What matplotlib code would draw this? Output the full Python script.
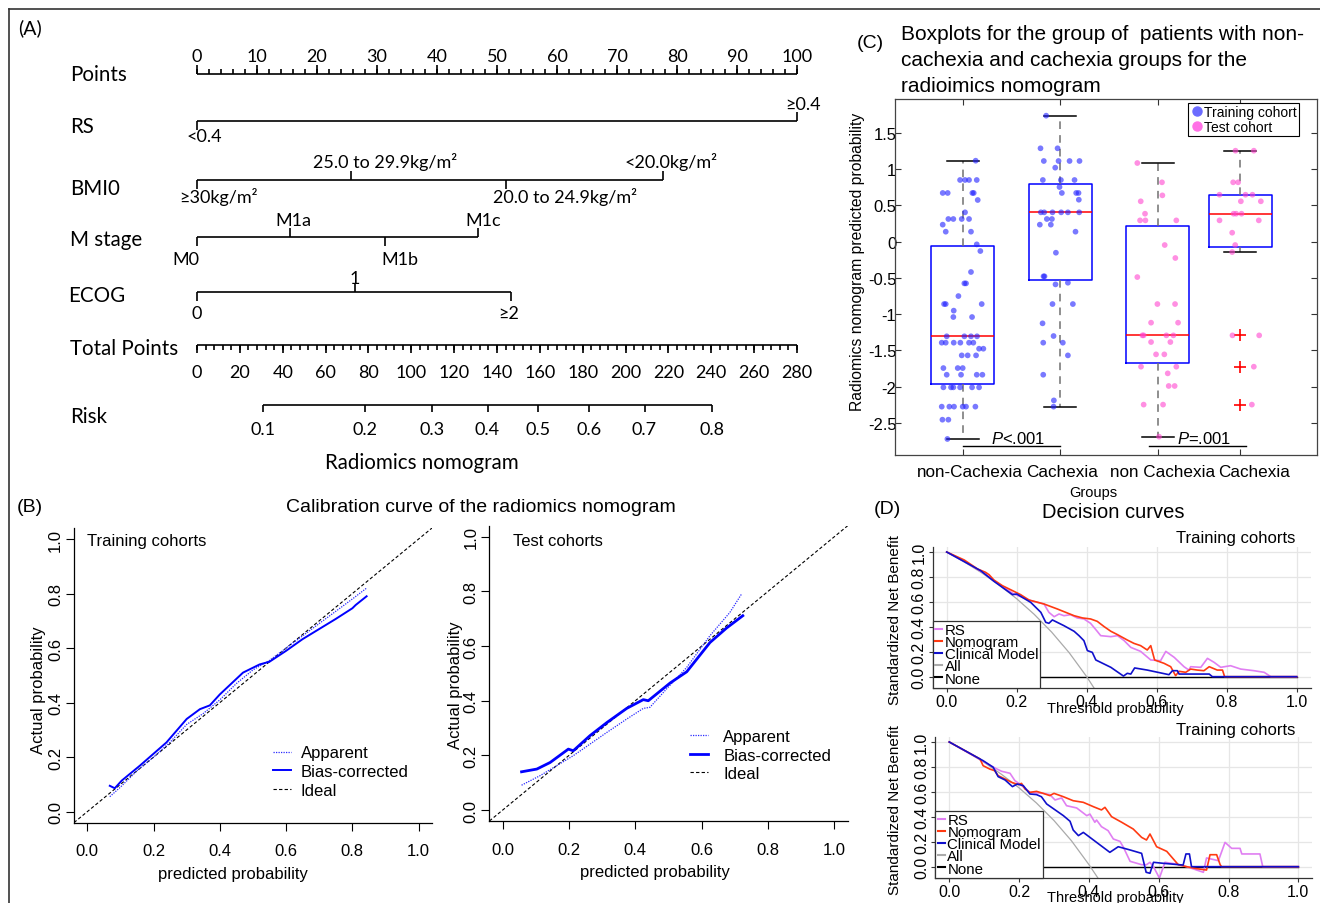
import numpy as np
import matplotlib
matplotlib.use("Agg")
import matplotlib.pyplot as plt
from matplotlib.lines import Line2D

# ============================ DATA ============================
# ---- Panel A: nomogram ----
points_ticks = [0, 10, 20, 30, 40, 50, 60, 70, 80, 90, 100]
rs_labels = ["<0.4", "≥0.4"]
rs_points = [0, 100]
bmi_labels = ["≥30kg/m²", "25.0 to 29.9kg/m²", "20.0 to 24.9kg/m²", "<20.0kg/m²"]
bmi_points = [0, 25.6, 51.5, 77.6]
mstage_labels = ["M0", "M1a", "M1b", "M1c"]
mstage_points = [0, 15.5, 31.3, 46.9]
ecog_labels = ["0", "1", "≥2"]
ecog_points = [0, 26.3, 52.4]
total_ticks = [0, 20, 40, 60, 80, 100, 120, 140, 160, 180, 200, 220, 240, 260, 280]
total_max = 280
risk_ticks = [0.1, 0.2, 0.3, 0.4, 0.5, 0.6, 0.7, 0.8]
risk_tp_at_half = 159.3      # total points where risk = 0.5
risk_tp_per_logit = 58.47    # total points per logit unit

# ---- Panel C: boxplots ----
group_labels = ["non-Cachexia", "Cachexia", "non Cachexia", "Cachexia"]
box_med = [-1.305, 0.405, -1.292, 0.386]
box_q1 = [-1.967, -0.529, -1.677, -0.068]
box_q3 = [-0.055, 0.800, 0.212, 0.648]
box_whislo = [-2.721, -2.275, -2.689, -0.143]
box_whishi = [1.117, 1.738, 1.085, 1.255]
box_fliers = [[], [], [], [-1.292, -1.724, -2.247]]

# (jitter, value) pairs
train_noncach = [(0.133, 1.117), (-0.027, 0.851), (0.024, 0.851), (0.065, 0.851), (0.144, 0.851),
                 (-0.205, 0.672), (-0.154, 0.672), (0.099, 0.672), (0.113, 0.672), (0.154, 0.575),
                 (0.024, 0.405), (-0.147, 0.313), (-0.096, 0.313), (-0.010, 0.313), (0.065, 0.313),
                 (-0.205, 0.235), (-0.174, 0.138), (0.085, 0.138), (0.144, -0.037), (0.181, -0.129),
                 (0.085, -0.418), (0.017, -0.575), (0.034, -0.575), (-0.044, -0.75), (-0.191, -0.86),
                 (-0.174, -0.86), (0.195, -0.86), (-0.092, -0.951), (-0.096, -1.039), (0.096, -1.039),
                 (-0.164, -1.305), (0.017, -1.305), (0.085, -1.305), (0.147, -1.305),
                 (-0.215, -1.393), (-0.174, -1.393), (-0.092, -1.393), (-0.024, -1.393), (0.065, -1.393),
                 (0.109, -1.393), (0.168, -1.476), (0.212, -1.476), (-0.010, -1.568), (0.051, -1.568),
                 (0.137, -1.568), (-0.198, -1.743), (-0.051, -1.743), (0.0, -1.743),
                 (-0.164, -1.835), (-0.017, -1.835), (0.144, -1.835), (0.202, -1.835),
                 (-0.198, -2.009), (-0.120, -2.009), (-0.096, -2.009), (-0.027, -2.009), (0.096, -2.009),
                 (0.168, -2.009), (-0.215, -2.275), (-0.137, -2.275), (-0.089, -2.275), (0.0, -2.275),
                 (0.034, -2.275), (0.130, -2.275), (-0.208, -2.455), (-0.147, -2.455), (-0.157, -2.721)]
train_cach = [(-0.144, 1.738), (-0.202, 1.288), (-0.027, 1.288), (-0.168, 1.113), (-0.017, 1.113),
              (0.096, 1.113), (0.198, 1.113), (-0.051, 1.021), (-0.178, 0.851), (0.007, 0.851),
              (0.147, 0.851), (-0.007, 0.754), (0.017, 0.672), (0.164, 0.672), (0.188, 0.672),
              (0.191, 0.579), (-0.198, 0.405), (-0.164, 0.405), (-0.079, 0.405), (0.010, 0.405),
              (0.079, 0.405), (0.195, 0.405), (-0.137, 0.313), (-0.085, 0.313), (-0.209, 0.235),
              (-0.096, 0.235), (0.157, 0.138), (-0.044, -0.152), (-0.171, -0.478), (-0.161, -0.478),
              (-0.048, -0.589), (0.079, -0.566), (-0.079, -0.86), (0.130, -0.86), (-0.181, -1.126),
              (-0.068, -1.301), (-0.174, -1.393), (0.027, -1.393), (0.079, -1.568), (-0.174, -1.835),
              (-0.065, -2.189), (-0.068, -2.275)]
test_noncach = [(-0.209, 1.085), (0.044, 0.819), (0.048, 0.639), (-0.174, 0.557), (-0.130, 0.386),
                (-0.181, 0.294), (-0.126, 0.294), (0.191, 0.294), (0.072, -0.046), (0.181, -0.225),
                (-0.209, -0.488), (-0.003, -0.86), (0.178, -0.86), (-0.068, -1.117), (0.209, -1.117),
                (-0.157, -1.292), (-0.144, -1.292), (0.089, -1.292), (0.161, -1.292), (-0.068, -1.384),
                (0.130, -1.384), (-0.017, -1.554), (0.068, -1.554), (-0.171, -1.724), (0.191, -1.724),
                (0.103, -1.816), (0.113, -1.99), (0.174, -1.99), (-0.144, -2.247), (0.055, -2.247),
                (0.014, -2.689)]
test_cach = [(-0.048, 1.255), (0.140, 1.255), (-0.072, 0.819), (-0.021, 0.819), (-0.212, 0.648),
             (0.055, 0.648), (0.126, 0.648), (0.007, 0.557), (0.212, 0.557), (-0.068, 0.386),
             (-0.041, 0.386), (0.014, 0.386), (-0.212, 0.294), (0.191, 0.294), (-0.082, 0.124),
             (-0.051, -0.046), (-0.082, -0.143), (-0.079, -1.292), (0.195, -1.292), (0.140, -1.724),
             (0.120, -2.247)]
pval_texts = ["<.001", "=.001"]
pval_y = -2.823

# ---- Panel B: calibration ----
train_app = [(0.068, 0.055), (0.1, 0.09), (0.15, 0.15), (0.2, 0.2), (0.25, 0.255), (0.3, 0.32),
             (0.35, 0.36), (0.4, 0.41), (0.45, 0.47), (0.5, 0.52), (0.55, 0.555), (0.6, 0.6),
             (0.65, 0.645), (0.7, 0.69), (0.75, 0.735), (0.8, 0.78), (0.843, 0.82)]
train_bc = [(0.068, 0.095), (0.083, 0.086), (0.104, 0.114), (0.159, 0.169), (0.239, 0.254),
            (0.30, 0.34), (0.34, 0.376), (0.37, 0.39), (0.40, 0.43), (0.47, 0.51), (0.52, 0.54),
            (0.55, 0.55), (0.60, 0.59), (0.65, 0.633), (0.70, 0.67), (0.75, 0.707), (0.80, 0.746),
            (0.81, 0.758), (0.843, 0.79)]
test_app = [(0.057, 0.091), (0.113, 0.126), (0.213, 0.199), (0.314, 0.284), (0.374, 0.333),
            (0.424, 0.372), (0.444, 0.376), (0.494, 0.443), (0.555, 0.522), (0.625, 0.638),
            (0.685, 0.723), (0.72, 0.79)]
test_bc = [(0.057, 0.14), (0.103, 0.15), (0.143, 0.174), (0.198, 0.223), (0.213, 0.217),
           (0.263, 0.272), (0.314, 0.32), (0.374, 0.372), (0.424, 0.404), (0.439, 0.40),
           (0.505, 0.465), (0.555, 0.506), (0.625, 0.613), (0.675, 0.666), (0.724, 0.711)]
calib_ticks = [0.0, 0.2, 0.4, 0.6, 0.8, 1.0]

# ---- Panel D: decision curves ----
dca_top_rs = [(0, 1.0), (0.05, 0.925), (0.107, 0.829), (0.15, 0.74), (0.192, 0.663), (0.24, 0.61),
              (0.278, 0.583), (0.292, 0.516), (0.307, 0.481), (0.321, 0.503), (0.335, 0.489),
              (0.354, 0.497), (0.373, 0.471), (0.392, 0.463), (0.411, 0.428), (0.430, 0.364),
              (0.44, 0.329), (0.469, 0.321), (0.488, 0.329), (0.507, 0.289), (0.526, 0.235),
              (0.554, 0.203), (0.583, 0.134), (0.611, 0.128), (0.626, 0.203), (0.65, 0.155),
              (0.678, 0.08), (0.692, 0.053), (0.697, 0.08), (0.726, 0.075), (0.745, 0.147),
              (0.764, 0.115), (0.783, 0.075), (0.811, 0.088), (0.84, 0.061), (0.878, 0.048),
              (0.907, 0.035), (0.926, 0.0), (1.0, 0.0)]
dca_top_nom = [(0, 1.0), (0.05, 0.936), (0.088, 0.864), (0.111, 0.837), (0.121, 0.818), (0.135, 0.775),
               (0.159, 0.73), (0.188, 0.69), (0.211, 0.658), (0.226, 0.631), (0.235, 0.615),
               (0.278, 0.583), (0.316, 0.543), (0.364, 0.489), (0.388, 0.471), (0.411, 0.463),
               (0.430, 0.444), (0.450, 0.401), (0.469, 0.364), (0.488, 0.337), (0.516, 0.294),
               (0.535, 0.267), (0.554, 0.249), (0.573, 0.214), (0.583, 0.249), (0.594, 0.134),
               (0.621, 0.107), (0.64, 0.08), (0.654, 0.008), (0.664, 0.043), (0.683, 0.035),
               (0.697, 0.061), (0.716, 0.053), (0.735, 0.048), (0.750, 0.08), (0.773, 0.053),
               (0.788, 0.053), (0.794, 0.0), (1.0, 0.0)]
dca_top_clin = [(0, 1.0), (0.097, 0.85), (0.135, 0.765), (0.188, 0.658), (0.2, 0.663), (0.24, 0.596),
                (0.269, 0.516), (0.283, 0.436), (0.292, 0.428), (0.302, 0.455), (0.335, 0.409),
                (0.364, 0.364), (0.378, 0.329), (0.392, 0.289), (0.402, 0.209), (0.416, 0.195),
                (0.426, 0.134), (0.469, 0.075), (0.505, 0.005), (0.516, 0.027), (0.526, 0.021),
                (0.537, 0.07), (0.573, 0.053), (0.635, 0.016), (0.645, 0.048), (0.659, 0.048),
                (0.664, 0.021), (0.75, 0.021), (0.759, 0.0), (1.0, 0.0)]
dca_top_all = [(0, 1.0), (0.05, 0.921), (0.1, 0.833), (0.15, 0.735), (0.2, 0.625), (0.25, 0.5),
               (0.3, 0.357), (0.35, 0.192), (0.4, 0.0), (0.43, -0.13)]
dca_bot_rs = [(0, 1.0), (0.131, 0.791), (0.15, 0.765), (0.174, 0.749), (0.188, 0.69), (0.202, 0.663),
              (0.231, 0.596), (0.269, 0.588), (0.288, 0.578), (0.303, 0.535), (0.322, 0.551),
              (0.336, 0.489), (0.365, 0.471), (0.394, 0.409), (0.403, 0.422), (0.417, 0.356),
              (0.422, 0.374), (0.436, 0.321), (0.455, 0.289), (0.47, 0.222), (0.489, 0.203),
              (0.499, 0.155), (0.518, 0.043), (0.551, 0.016), (0.565, 0.016), (0.575, 0.035),
              (0.585, 0.0), (0.602, -0.091), (0.618, 0.035), (0.651, 0.021), (0.68, 0.0),
              (0.728, -0.045), (0.737, 0.07), (0.771, 0.048), (0.79, 0.195), (0.809, 0.147),
              (0.833, 0.147), (0.838, 0.102), (0.89, 0.102), (0.898, 0.0), (1.0, 0.0)]
dca_bot_nom = [(0, 1.0), (0.088, 0.864), (0.097, 0.81), (0.116, 0.783), (0.13, 0.77), (0.14, 0.73),
               (0.16, 0.703), (0.179, 0.676), (0.198, 0.658), (0.207, 0.668), (0.217, 0.623),
               (0.231, 0.596), (0.25, 0.604), (0.269, 0.588), (0.288, 0.57), (0.3, 0.588),
               (0.327, 0.561), (0.355, 0.529), (0.384, 0.516), (0.413, 0.481), (0.436, 0.455),
               (0.446, 0.476), (0.465, 0.401), (0.494, 0.356), (0.527, 0.302), (0.551, 0.235),
               (0.565, 0.214), (0.575, 0.262), (0.594, 0.16), (0.623, 0.123), (0.656, 0.016),
               (0.68, 0.0), (0.709, -0.016), (0.737, -0.027), (0.747, 0.096), (0.766, 0.096),
               (0.776, 0.016), (0.78, 0.0), (1.0, 0.0)]
dca_bot_clin = [(0, 1.0), (0.097, 0.85), (0.126, 0.797), (0.14, 0.722), (0.16, 0.695), (0.181, 0.642),
                (0.195, 0.663), (0.212, 0.65), (0.231, 0.583), (0.25, 0.578), (0.264, 0.561),
                (0.279, 0.503), (0.327, 0.409), (0.346, 0.364), (0.355, 0.294), (0.37, 0.249),
                (0.384, 0.275), (0.403, 0.235), (0.46, 0.115), (0.484, 0.16), (0.518, 0.134),
                (0.551, 0.107), (0.564, -0.045), (0.575, -0.053), (0.585, 0.035), (0.613, 0.027),
                (0.67, 0.013), (0.678, 0.102), (0.688, 0.102), (0.694, 0.0), (1.0, 0.0)]
dca_bot_all = [(0, 1.0), (0.05, 0.922), (0.1, 0.836), (0.15, 0.74), (0.2, 0.632), (0.25, 0.51),
               (0.3, 0.37), (0.35, 0.208), (0.4, 0.017), (0.44, -0.15)]
dca_none = [(0.0, 0.0), (1.0, 0.0)]
dca_ticks = [0.0, 0.2, 0.4, 0.6, 0.8, 1.0]
dca_names = ["RS", "Nomogram", "Clinical Model", "All", "None"]

# ============================ FIGURE ============================
W, H = 1320, 904
plt.rcParams['font.family'] = ['Liberation Sans', 'DejaVu Sans']
plt.rcParams['mathtext.fontset'] = 'custom'
plt.rcParams['mathtext.it'] = 'Liberation Sans:italic'
plt.rcParams['mathtext.rm'] = 'Liberation Sans'
NF = ['Lato', 'DejaVu Sans']

fig = plt.figure(figsize=(W / 100, H / 100), dpi=100)


def add_ax(l, t, r, b):
    return fig.add_axes([l / W, 1 - b / H, (r - l) / W, (b - t) / H])


def ftext(x, y, s, **kw):
    return fig.text(x / W, 1 - y / H, s, **kw)


# outer frame lines
fig.add_artist(Line2D([9 / W, 9 / W], [0, 1 - 10 / H], color='#333333', lw=1.2))
fig.add_artist(Line2D([9 / W, 1], [1 - 10 / H, 1 - 10 / H], color='#333333', lw=1.2))

# ---------------------------- Panel A ----------------------------
axA = add_ax(0, 0, 840, 480)
axA.set_xlim(-197 / 6, (840 - 197) / 6)
axA.set_ylim(480, 0)
axA.axis('off')
LW = 1.2
TFS = 13


def px2pt(px):
    return (px - 197) / 6.0


rows = [("Points", 75, 70), ("RS", 127, 70), ("BMI0", 189, 70), ("M stage", 240, 70),
        ("ECOG", 296, 68), ("Total Points", 349, 70), ("Risk", 417, 70)]
for lab, y, x in rows:
    axA.text(px2pt(x), y, lab, ha='left', va='center', fontsize=14.8, family=NF)

# Points scale
yP = 75
axA.hlines(yP, 0, 100, color='k', lw=LW)
axA.vlines(np.arange(0, 101, 2), yP - 5, yP, color='k', lw=LW)
axA.vlines(points_ticks, yP - 9, yP, color='k', lw=LW)
for t in points_ticks:
    axA.text(t, 57, str(t), ha='center', va='center', fontsize=TFS, family=NF)


def var_row(y, pts, labels, lab_x, up, y_up, y_dn):
    axA.hlines(y, min(pts), max(pts), color='k', lw=LW)
    for p, lab, lx, u in zip(pts, labels, lab_x, up):
        if u:
            axA.vlines(p, y - 9, y, color='k', lw=LW)
            axA.text(lx, y_up, lab, ha='center', va='center', fontsize=TFS, family=NF)
        else:
            axA.vlines(p, y, y + 9, color='k', lw=LW)
            axA.text(lx, y_dn, lab, ha='center', va='center', fontsize=TFS, family=NF)


var_row(122, rs_points, rs_labels, [px2pt(204), px2pt(803)], [False, True], 105, 137)
var_row(181, bmi_points, bmi_labels, [px2pt(218), px2pt(385), px2pt(565), px2pt(671)],
        [False, True, False, True], 162, 197)
var_row(238, mstage_points, mstage_labels, [px2pt(186), px2pt(293), px2pt(400), px2pt(483)],
        [False, True, False, True], 221, 260)
var_row(293, ecog_points, ecog_labels, [px2pt(197), px2pt(355), px2pt(509)],
        [False, True, False], 279, 314)

# Total points scale
k = 100.0 / total_max
yT = 346
axA.hlines(yT, 0, 100, color='k', lw=LW)
axA.vlines(np.arange(0, total_max + 1, 4) * k, yT, yT + 4.5, color='k', lw=LW)
axA.vlines(np.array(total_ticks) * k, yT, yT + 8, color='k', lw=LW)
for t in total_ticks:
    axA.text(t * k, 373, str(t), ha='center', va='center', fontsize=TFS, family=NF)

# Risk scale
rt = np.array(risk_ticks)
risk_pos = (risk_tp_at_half + risk_tp_per_logit * np.log(rt / (1 - rt))) * k
yR = 406
axA.hlines(yR, risk_pos.min(), risk_pos.max(), color='k', lw=LW)
axA.vlines(risk_pos, yR, yR + 7, color='k', lw=LW)
for p, t in zip(risk_pos, risk_ticks):
    axA.text(p, 430, f"{t:.1f}", ha='center', va='center', fontsize=TFS, family=NF)

axA.text(px2pt(422), 463, "Radiomics nomogram", ha='center', va='center', fontsize=14.8, family=NF)
ftext(30, 28, "(A)", ha='center', va='center', fontsize=14, family=NF)

# ---------------------------- Panel C ----------------------------
axC = add_ax(895, 100, 1317, 456)
pos = [1, 2, 3, 3.846]
stats = []
for i in range(4):
    stats.append(dict(med=box_med[i], q1=box_q1[i], q3=box_q3[i], whislo=box_whislo[i],
                      whishi=box_whishi[i], fliers=box_fliers[i]))
axC.bxp(stats, positions=pos, widths=0.645, capwidths=0.325, manage_ticks=False,
        boxprops=dict(color='#0000ff', lw=1.1),
        whiskerprops=dict(color='#707070', lw=1.1, linestyle=(0, (5, 4))),
        capprops=dict(color='black', lw=1.1),
        medianprops=dict(color='red', lw=1.1),
        flierprops=dict(marker='+', markeredgecolor='red', markersize=9, markeredgewidth=1.2,
                        linestyle='none'))
groups_pts = [train_noncach, train_cach, test_noncach, test_cach]
colors_pts = ['#2020ff', '#2020ff', '#ff45cf', '#ff45cf']
for g, (pts, c) in enumerate(zip(groups_pts, colors_pts)):
    a = np.array(pts)
    axC.scatter(pos[g] + a[:, 0], a[:, 1], s=17, color=c, alpha=0.6, edgecolors='none', zorder=5)

axC.set_xlim(0.3056, 4.634)
axC.set_ylim(-2.942, 1.968)
yt = [-2.5, -2, -1.5, -1, -0.5, 0, 0.5, 1, 1.5]
axC.set_yticks(yt)
axC.set_yticklabels([f"{v:g}" for v in yt])
axC.set_xticks(pos)
axC.set_xticklabels([])
axC.tick_params(axis='y', direction='in', length=4, right=True, labelsize=12, pad=-1,
                color='#333333')
axC.tick_params(axis='x', direction='in', length=4, top=True, color='#333333')
for s in axC.spines.values():
    s.set_color('#444444')
    s.set_linewidth(0.9)
# group labels, slightly shifted right as in the reference
label_shift = [0.075, 0.02, 0.054, 0.14]
for p, sft, lab in zip(pos, label_shift, group_labels):
    axC.text(p + sft, -0.047, lab, transform=axC.get_xaxis_transform(), ha='center', va='center',
             fontsize=12.3)
# p-values
axC.plot([1, 2], [pval_y, pval_y], color='k', lw=1)
axC.plot([2.911, 3.902], [pval_y, pval_y], color='k', lw=1)
axC.text(1.287, pval_y + 0.01, "$P$" + pval_texts[0], ha='left', va='bottom', fontsize=12)
axC.text(3.195, pval_y + 0.01, "$P$" + pval_texts[1], ha='left', va='bottom', fontsize=12)
hC = [Line2D([], [], marker='o', ls='none', color='#6b6bff', markersize=6.5),
      Line2D([], [], marker='o', ls='none', color='#ff70e6', markersize=6.5)]
legC = axC.legend(hC, ["Training cohort", "Test cohort"], loc='upper right',
                  bbox_to_anchor=(0.957, 0.989), fontsize=10, frameon=True, fancybox=False,
                  edgecolor='black', framealpha=1, handletextpad=0.0, borderpad=0.15,
                  labelspacing=0.05, handlelength=1.0, borderaxespad=0)
legC.get_frame().set_linewidth(0.8)
ftext(1093, 493, "Groups", ha='center', va='center', fontsize=10.5)
ftext(857, 262, "Radiomics nomogram predicted probability", ha='center', va='center',
      rotation=90, fontsize=11.3)
ftext(870, 44, "(C)", ha='center', va='center', fontsize=14)
ftext(901, 35, "Boxplots for the group of  patients with non-", ha='left', va='center', fontsize=15)
ftext(901, 60, "cachexia and cachexia groups for the", ha='left', va='center', fontsize=15)
ftext(901, 86, "radioimics nomogram", ha='left', va='center', fontsize=15)

# ---------------------------- Panel B ----------------------------
def calib(box, app, bc, bc_lw, title, tpos, leg_anchor, leg_pad):
    ax = add_ax(*box)
    ax.set_xlim(-0.04, 1.04)
    ax.set_ylim(-0.04, 1.04)
    ax.axline((0, 0), slope=1, color='k', lw=0.8, ls=(0, (3, 2)))
    a = np.array(app)
    b = np.array(bc)
    ax.plot(a[:, 0], a[:, 1], color='#2a2aff', lw=0.9, ls=(0, (1, 1)))
    ax.plot(b[:, 0], b[:, 1], color='#0000ff', lw=bc_lw)
    ax.set_xticks(calib_ticks)
    ax.set_yticks(calib_ticks)
    ax.set_xticklabels([f"{v:.1f}" for v in calib_ticks])
    ax.set_yticklabels([f"{v:.1f}" for v in calib_ticks], rotation=90, va='center')
    ax.tick_params(axis='both', direction='out', length=6, width=0.8, labelsize=12)
    ax.tick_params(axis='x', pad=9)
    ax.tick_params(axis='y', pad=2)
    for s in ['top', 'right']:
        ax.spines[s].set_visible(False)
    for s in ['left', 'bottom']:
        ax.spines[s].set_linewidth(0.9)
    ax.text(tpos[0], tpos[1], title, transform=ax.transAxes, ha='left', va='center', fontsize=12)
    h = [Line2D([], [], color='#2a2aff', lw=0.9, ls=(0, (1, 1))),
         Line2D([], [], color='#0000ff', lw=bc_lw),
         Line2D([], [], color='k', lw=0.8, ls=(0, (3, 2)))]
    ax.legend(h, ["Apparent", "Bias-corrected", "Ideal"], loc='upper left', bbox_to_anchor=leg_anchor,
              frameon=False, fontsize=12, handlelength=1.1, handletextpad=leg_pad,
              labelspacing=0.22, borderpad=0, borderaxespad=0)
    return ax


axB1 = calib((74, 529.1, 431.9, 823.6), train_app, train_bc, 1.4, "Training cohorts",
             ((87 - 74) / 357.9, (823.6 - 542) / 294.5), (0.555, 0.262), 0.6)
axB2 = calib((489.4, 526.8, 847.6, 822), test_app, test_bc, 2.0, "Test cohorts",
             ((512.7 - 489.4) / 358.2, (822 - 541.7) / 295.2), (0.56, 0.312), 0.9)
ftext(233, 875, "predicted probability", ha='center', va='center', fontsize=12)
ftext(655, 873, "predicted probability", ha='center', va='center', fontsize=12)
ftext(39, 690, "Actual probability", ha='center', va='center', rotation=90, fontsize=12)
ftext(455, 685, "Actual probability", ha='center', va='center', rotation=90, fontsize=12)
ftext(30, 508, "(B)", ha='center', va='center', fontsize=14)
ftext(481, 508, "Calibration curve of the radiomics nomogram", ha='center', va='center', fontsize=14)

# ---------------------------- Panel D ----------------------------
dca_colors = ['#e07ff2', '#ff3a12', '#1010cc', '#aaaaaa', 'black']


def dca(box, rs, nom, clin, allc, title_y, xlab_y, ylab_y):
    ax = add_ax(*box)
    ax.set_xlim(-0.04, 1.04)
    ax.set_ylim(-0.09, 1.04)
    ax.set_xticks(dca_ticks)
    ax.set_yticks(dca_ticks)
    ax.set_xticklabels([f"{v:.1f}" for v in dca_ticks])
    ax.set_yticklabels([f"{v:.1f}" for v in dca_ticks], rotation=90, va='center')
    ax.grid(True, color='#e6e6e6', lw=0.9)
    ax.set_axisbelow(True)
    for s in ['top', 'right']:
        ax.spines[s].set_visible(False)
    for s in ['left', 'bottom']:
        ax.spines[s].set_color('#333333')
        ax.spines[s].set_linewidth(0.9)
    ax.tick_params(axis='both', direction='out', length=3, width=0.8, labelsize=11.5, pad=1.5,
                   color='#333333')
    n = np.array(dca_none)
    ax.plot(n[:, 0], n[:, 1], color=dca_colors[4], lw=1.0)
    for data, c in zip([allc, rs, nom, clin], [dca_colors[3], dca_colors[0], dca_colors[1], dca_colors[2]]):
        d = np.array(data)
        ax.plot(d[:, 0], d[:, 1], color=c, lw=1.2 if c != '#aaaaaa' else 0.9)
    h = [Line2D([], [], color=c, lw=1.5) for c in dca_colors]
    leg = ax.legend(h, dca_names, loc='lower left', bbox_to_anchor=(0, 0), borderaxespad=0,
                    fancybox=False, edgecolor='#333333', framealpha=1, fontsize=10.8,
                    handlelength=0.5, handletextpad=0.15, labelspacing=-0.12, borderpad=0.15)
    leg.get_frame().set_linewidth(0.9)
    ftext(1295, title_y, "Training cohorts", ha='right', va='center', fontsize=12)
    ftext(1115, xlab_y, "Threshold probability", ha='center', va='center', fontsize=10.5)
    ftext(895, ylab_y, "Standardized Net Benefit", ha='center', va='center', rotation=90,
          fontsize=11)
    return ax


axD1 = dca((932.7, 548, 1310.7, 688.9), dca_top_rs, dca_top_nom, dca_top_clin, dca_top_all,
           538, 709, 620)
axD2 = dca((935.3, 738, 1312.3, 878.9), dca_bot_rs, dca_bot_nom, dca_bot_clin, dca_bot_all,
           731, 898, 810)
ftext(887, 510, "(D)", ha='center', va='center', fontsize=14)
ftext(1113, 513, "Decision curves", ha='center', va='center', fontsize=14.5)

fig.savefig("out.png", dpi=100)
